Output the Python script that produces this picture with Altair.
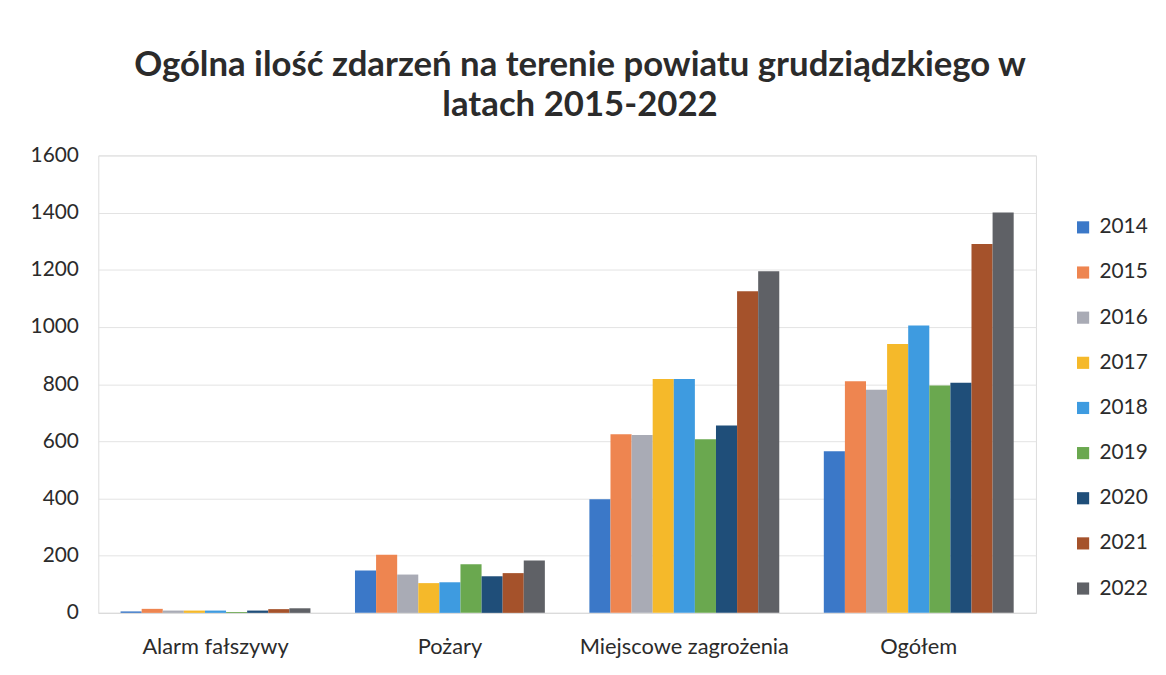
import altair as alt
import pandas as pd

categories = ["Alarm fałszywy", "Pożary", "Miejscowe zagrożenia", "Ogółem"]
years = ["2014", "2015", "2016", "2017", "2018", "2019", "2020", "2021", "2022"]
v2014 = [5, 148, 397, 565]
v2015 = [14, 203, 625, 810]
v2016 = [8, 134, 622, 780]
v2017 = [8, 104, 818, 940]
v2018 = [8, 107, 818, 1005]
v2019 = [3, 170, 607, 795]
v2020 = [8, 128, 655, 805]
v2021 = [13, 139, 1125, 1290]
v2022 = [16, 183, 1195, 1400]
colors = ["#3B78C8", "#EE8550", "#A9ABB5", "#F5B92A", "#3E9BE0",
          "#6AA84F", "#1F4E79", "#A5522B", "#5F6166"]

series = [v2014, v2015, v2016, v2017, v2018, v2019, v2020, v2021, v2022]
rows = []
for y, vals in zip(years, series):
    for c, v in zip(categories, vals):
        rows.append({"kategoria": c, "rok": y, "wartosc": v})
df = pd.DataFrame(rows)

FONT = "Lato"

chart = alt.Chart(df).mark_bar().encode(
    x=alt.X("kategoria:N", sort=categories, title=None,
            scale=alt.Scale(paddingInner=0.19, paddingOuter=0.095),
            axis=alt.Axis(labelAngle=0, labelFontSize=22, labelColor="#2b2b2b",
                          labelFont=FONT, labelPadding=24, ticks=False, labelLimit=400,
                          domainColor="#d9d9d9", grid=False)),
    xOffset=alt.XOffset("rok:N", sort=years),
    y=alt.Y("wartosc:Q", title=None,
            scale=alt.Scale(domain=[0, 1600]),
            axis=alt.Axis(values=[0, 200, 400, 600, 800, 1000, 1200, 1400, 1600],
                          format="d",
                          labelFontSize=21, labelColor="#2b2b2b", labelFont=FONT,
                          labelPadding=20, ticks=False, domain=False,
                          gridColor="#e3e3e3")),
    color=alt.Color("rok:N", sort=years,
                    scale=alt.Scale(domain=years, range=colors),
                    legend=alt.Legend(title=None, orient="none", legendX=982, legendY=62,
                                      symbolType="square", symbolSize=150,
                                      symbolStrokeWidth=0,
                                      labelFontSize=21, labelFont=FONT,
                                      labelColor="#2b2b2b", rowPadding=23.5,
                                      labelOffset=6)),
).properties(
    width=945,
    height=461,
    title=alt.TitleParams(
        text=["Ogólna ilość zdarzeń na terenie powiatu grudziądzkiego w", "latach 2015-2022"],
        fontSize=35, font=FONT, fontWeight="bold", color="#2b2b2b",
        lineHeight=40, offset=22, anchor="middle", dx=13,
    ),
    padding={"left": 22, "top": 38, "right": 10, "bottom": 10},
).configure_view(stroke=None).configure(background="white")

chart.save("out.html", embed_options={"renderer": "svg", "actions": False})
